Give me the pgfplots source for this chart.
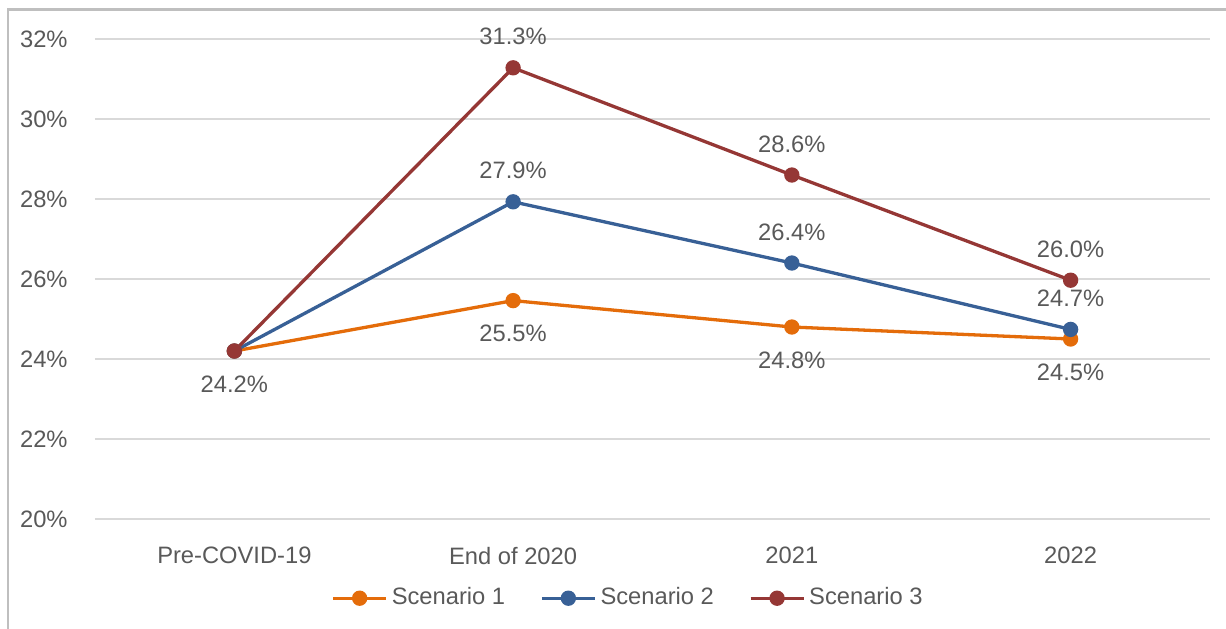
\documentclass[border=0pt]{standalone}
\usepackage{pgfplots}
\pgfplotsset{compat=1.18}
\usepackage{fontspec}
\setmainfont{Liberation Sans}
\definecolor{txt}{HTML}{595959}
\definecolor{gridc}{HTML}{D9D9D9}
\definecolor{framec}{HTML}{BFBFBF}
\definecolor{sOne}{HTML}{E46C0A}
\definecolor{sTwo}{HTML}{386096}
\definecolor{sThree}{HTML}{953735}

\begin{document}
\begin{tikzpicture}
\useasboundingbox (0,0) rectangle (122.6mm,62.8mm);
\draw[framec, line width=0.25mm] (0.8mm,-1mm) -- (0.8mm,61.85mm) -- (124mm,61.85mm);
\begin{axis}[
  at={(9.5mm,10.9mm)}, anchor=south west,
  scale only axis, width=111.5mm, height=48mm,
  clip=false,
  font=\fontsize{6.75}{8}\selectfont, text=txt,
  /pgf/number format/assume math mode=true,
  xmin=-0.5, xmax=3.5, ymin=20, ymax=32,
  xtick={0,1,2,3},
  xticklabels={Pre-COVID-19, End of 2020, 2021, 2022},
  ytick={20,22,24,26,28,30,32},
  yticklabel={\pgfmathprintnumber{\tick}\%},
  axis line style={draw=none},
  major tick length=0pt,
  ymajorgrids, grid style={gridc, line width=0.2mm},
  xticklabel style={yshift=-1.6mm},
  yticklabel style={xshift=-1.5mm},
  every axis plot/.append style={line width=0.33mm, mark=*, mark size=0.6mm},
  nodes near coords, point meta=explicit symbolic,
  every node near coord/.append style={font=\fontsize{6.75}{8}\selectfont, text=txt, anchor=center},
  legend columns=3,
  legend style={draw=none, fill=none, at={(0.479,-0.165)}, anchor=center,
    font=\fontsize{6.75}{8}\selectfont, text=txt,
    nodes={inner xsep=0.4mm},
    /tikz/every even column/.append style={column sep=3.1mm}},
  legend image code/.code={
    \draw[mark repeat=2, mark phase=2] plot coordinates {(0mm,0mm)(2.65mm,0mm)(5.3mm,0mm)};},
]
\addplot[sOne, mark options={fill=sOne}, every node near coord/.append style={yshift=-3.3mm}]
  coordinates {(0,24.2)[24.2\%] (1,25.46)[25.5\%] (2,24.8)[24.8\%] (3,24.5)[24.5\%]};
\addlegendentry{Scenario 1}
\addplot[sTwo, mark options={fill=sTwo}, every node near coord/.append style={yshift=3.1mm}]
  coordinates {(0,24.2)[] (1,27.93)[27.9\%] (2,26.4)[26.4\%] (3,24.74)[24.7\%]};
\addlegendentry{Scenario 2}
\addplot[sThree, mark options={fill=sThree}, every node near coord/.append style={yshift=3.1mm}]
  coordinates {(0,24.2)[] (1,31.28)[31.3\%] (2,28.6)[28.6\%] (3,25.97)[26.0\%]};
\addlegendentry{Scenario 3}
\end{axis}
\end{tikzpicture}
\end{document}
